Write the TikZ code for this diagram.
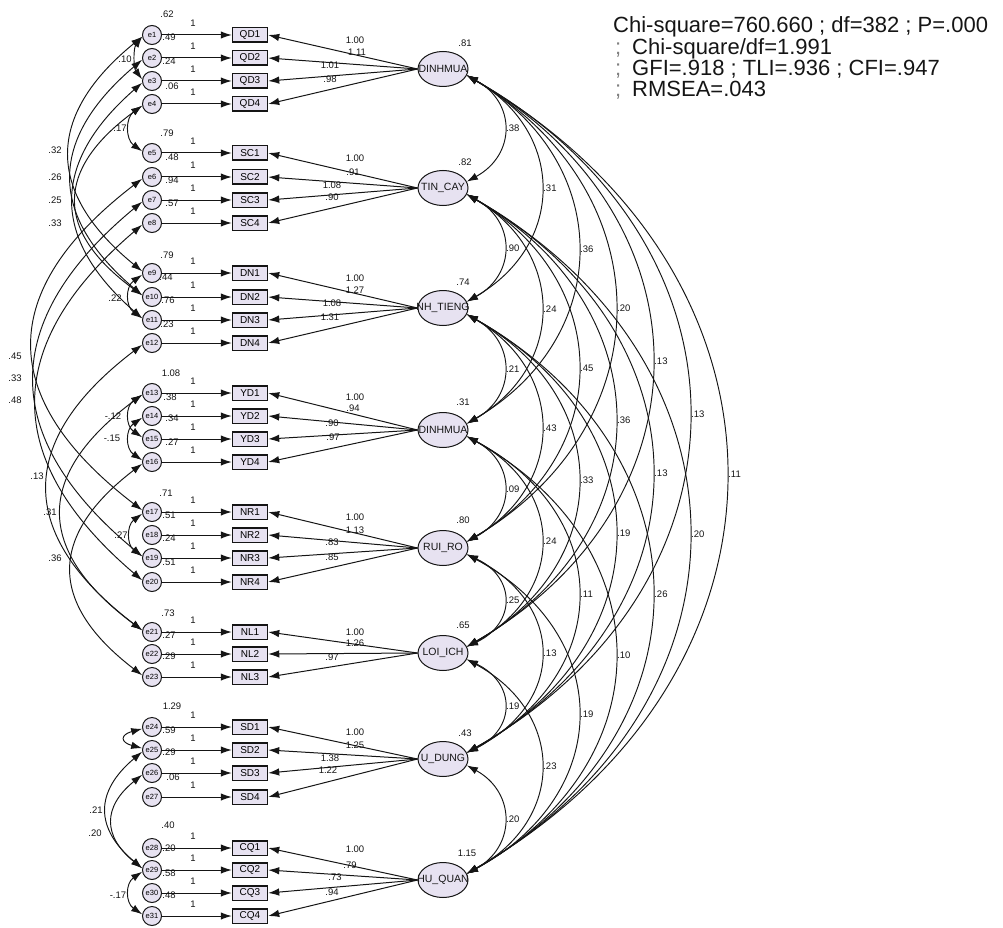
\documentclass[tikz,border=0pt]{standalone}
\usepackage{fontspec}
\setmainfont{Liberation Sans}
\usetikzlibrary{arrows.meta,shapes.geometric}
\definecolor{nodefill}{HTML}{E7E2F1}
\definecolor{ink}{HTML}{151515}
\tikzset{
  err/.style={circle, draw=ink, fill=nodefill, line width=1pt, minimum size=19pt, inner sep=0pt, font=\fontsize{7.5}{7.5}\selectfont},
  obs/.style={rectangle, draw=ink, fill=nodefill, line width=1.5pt, minimum width=35pt, minimum height=14.5pt, inner sep=0pt, font=\fontsize{10}{10}\selectfont},
  lat/.style={ellipse, draw=ink, fill=nodefill, line width=1pt, minimum width=50pt, minimum height=35pt, inner sep=0pt},
  lattext/.style={font=\fontsize{10.5}{10.5}\selectfont, inner sep=0pt, text=ink},
  arr/.style={draw=ink, line width=1pt, -{Latex[length=11pt,width=7.5pt]}},
  cov/.style={draw=ink, line width=0.95pt, {Latex[length=11pt,width=7.5pt]}-{Latex[length=11pt,width=7.5pt]}},
  lab/.style={font=\fontsize{9.5}{9.5}\selectfont, inner sep=0pt, text=ink},
  clab/.style={lab, pos=0.5, anchor=west, xshift=2pt},
  fitline/.style={font=\fontsize{22}{22}\selectfont, inner sep=0pt, anchor=base west, text=ink},
  fitsep/.style={fitline, text=gray},
}
\begin{document}
\begin{tikzpicture}[x=1pt,y=1pt]
\useasboundingbox (0,0) rectangle (1003,-928);

% error terms, indicators and their unit paths
\foreach \n/\y/\t in {1/35/QD1,2/58/QD2,3/81/QD3,4/104/QD4,
  5/153/SC1,6/177/SC2,7/200/SC3,8/223/SC4,
  9/273/DN1,10/297/DN2,11/320/DN3,12/343/DN4,
  13/393/YD1,14/416/YD2,15/439/YD3,16/462/YD4,
  17/512/NR1,18/535/NR2,19/558/NR3,20/582/NR4,
  21/632/NL1,22/654/NL2,23/677/NL3,
  24/727/SD1,25/750/SD2,26/773/SD3,27/797/SD4,
  28/848/CQ1,29/870/CQ2,30/893/CQ3,31/916/CQ4}{
  \node[err] (e\n) at (152,-\y) {e\n};
  \node[obs] (v\n) at (250,-\y) {\t};
  \draw[arr] (e\n) -- (v\n);
  \node[lab] (one\n) at (193,-\y+12) {1};
}

% latent factors
\foreach \k/\y/\t in {1/69/DINHMUA,2/188/TIN\_CAY,3/308/NH\_TIENG,4/430/DINHMUA,
  5/548/RUI\_RO,6/653/LOI\_ICH,7/759/U\_DUNG,8/880/HU\_QUAN}{
  \node[lat, label={[lattext]center:\t}] (F\k) at (443,-\y) {};
}

% factor loadings
\foreach \v/\k in {1/1,2/1,3/1,4/1,5/2,6/2,7/2,8/2,9/3,10/3,11/3,12/3,
  13/4,14/4,15/4,16/4,17/5,18/5,19/5,20/5,21/6,22/6,23/6,
  24/7,25/7,26/7,27/7,28/8,29/8,30/8,31/8}{
  \draw[arr] (F\k.west) -- (v\v.east);
}

% loading estimates
\foreach \x/\y/\t [count=\c] in {355/40/1.00,357/52/1.11,330/65/1.01,330/79/.98,
  355/158/1.00,353/172/.91,332/185/1.08,332/197/.90,
  355/278/1.00,355/290/1.27,332/303/1.08,330/317/1.31,
  355/397/1.00,353/408/.94,332/423/.90,333/437/.97,
  355/517/1.00,355/530/1.13,332/542/.83,332/557/.85,
  355/632/1.00,355/643/1.26,332/657/.97,
  355/732/1.00,355/745/1.25,330/758/1.38,328/770/1.22,
  355/849/1.00,350/865/.79,335/877/.73,332/892/.94}{
  \node[lab] (ld\c) at (\x,-\y) {\t};
}

% error variances
\foreach \x/\y/\t [count=\c] in {167/14/.62,169/37/.49,169/61/.24,172/86/.06,
  167/133/.79,172/157/.48,172/180/.94,172/203/.57,
  167/255/.79,166/277/.44,168/300/.76,167/324/.23,
  171/373/1.08,170/397/.38,172/418/.34,172/442/.27,
  166/493/.71,169/515/.51,169/538/.24,169/562/.51,
  168/613/.73,169/635/.27,169/656/.29,
  172/706/1.29,169/730/.59,169/752/.29,173/777/.06,
  168/825/.40,169/848/.20,169/873/.58,169/895/.48}{
  \node[lab] (ev\c) at (\x,-\y) {\t};
}

% factor variances
\foreach \x/\y/\t [count=\c] in {465/43/.81,465/162/.82,463/282/.74,463/402/.31,
  463/520/.80,463/625/.65,465/733/.43,467/853/1.15}{
  \node[lab] (fv\c) at (\x,-\y) {\t};
}

% covariances between error terms
\draw[cov] (e1.190) .. controls +(-8.8,-11.5) and +(-8.8,11.5) .. (e3.170);
\draw[cov] (e4.190) .. controls +(-16.8,-12) and +(-16.8,12) .. (e5.170);
\draw[cov] (e1.190) .. controls +(-96.8,-79) and +(-96.8,79) .. (e9.170);
\draw[cov] (e2.190) .. controls +(-94.1,-80) and +(-94.1,80) .. (e10.170);
\draw[cov] (e3.190) .. controls +(-91.5,-80) and +(-91.5,80) .. (e11.170);
\draw[cov] (e4.190) .. controls +(-87.5,-64) and +(-87.5,64) .. (e10.170);
\draw[cov] (e6.190) .. controls +(-146,-112) and +(-146,112) .. (e17.170);
\draw[cov] (e7.190) .. controls +(-143.5,-119) and +(-143.5,119) .. (e19.170);
\draw[cov] (e8.190) .. controls +(-140.8,-120) and +(-140.8,120) .. (e20.170);
\draw[cov] (e12.190) .. controls +(-126,-96) and +(-126,96) .. (e21.170);
\draw[cov] (e13.190) .. controls +(-107.5,-80) and +(-107.5,80) .. (e21.170);
\draw[cov] (e16.190) .. controls +(-94,-72) and +(-94,72) .. (e23.170);
\draw[cov] (e9.190) .. controls +(-16.8,-12) and +(-16.8,12) .. (e11.170);
\draw[cov] (e13.190) .. controls +(-16.8,-11.5) and +(-16.8,11.5) .. (e15.170);
\draw[cov] (e14.190) .. controls +(-16.8,-11.5) and +(-16.8,11.5) .. (e16.170);
\draw[cov] (e17.190) .. controls +(-15.5,-11.5) and +(-15.5,11.5) .. (e19.170);
\draw[cov] (e24.190) .. controls +(-22,-6) and +(-22,6) .. (e25.170);
\draw[cov] (e25.190) .. controls +(-47.5,-40) and +(-47.5,40) .. (e29.170);
\draw[cov] (e26.190) .. controls +(-39.5,-32) and +(-39.5,32) .. (e29.170);
\draw[cov] (e29.190) .. controls +(-16.8,-11.5) and +(-16.8,11.5) .. (e31.170);

\foreach \x/\y/\t [count=\c] in {125/59/.10,120/128/.17,55/150/.32,55/177/.26,
  55/200/.25,55/223/.33,115/298/.22,15/356/.45,15/378/.33,15/400/.48,
  113/416/-.12,112/438/-.15,37/476/.13,50/512/.31,121/535/.27,55/558/.36,
  96/810/.21,95/833/.20,118/895/-.17}{
  \node[lab] (ec\c) at (\x,-\y) {\t};
}

% covariances between factors
\draw[cov] (F1.-15) .. controls +(49.3,-27) and +(49.3,27) .. (F2.15) node[clab]{.38};
\draw[cov] (F1.-15) .. controls +(98.7,-57) and +(98.7,57) .. (F3.15) node[clab]{.31};
\draw[cov] (F1.-15) .. controls +(148,-87) and +(148,87) .. (F4.15) node[clab]{.36};
\draw[cov] (F1.-15) .. controls +(197.3,-117) and +(197.3,117) .. (F5.15) node[clab]{.20};
\draw[cov] (F1.-15) .. controls +(246.7,-143) and +(246.7,143) .. (F6.15) node[clab]{.13};
\draw[cov] (F1.-15) .. controls +(296,-169) and +(296,169) .. (F7.15) node[clab]{.13};
\draw[cov] (F1.-15) .. controls +(345.3,-200) and +(345.3,200) .. (F8.15) node[clab]{.11};
\draw[cov] (F2.-15) .. controls +(49.3,-27) and +(49.3,27) .. (F3.15) node[clab]{.90};
\draw[cov] (F2.-15) .. controls +(98.7,-57.5) and +(98.7,57.5) .. (F4.15) node[clab]{.24};
\draw[cov] (F2.-15) .. controls +(148,-87) and +(148,87) .. (F5.15) node[clab]{.45};
\draw[cov] (F2.-15) .. controls +(197.3,-113) and +(197.3,113) .. (F6.15) node[clab]{.36};
\draw[cov] (F2.-15) .. controls +(246.7,-140) and +(246.7,140) .. (F7.15) node[clab]{.13};
\draw[cov] (F2.-15) .. controls +(296,-170) and +(296,170) .. (F8.15) node[clab]{.20};
\draw[cov] (F3.-15) .. controls +(49.3,-27.5) and +(49.3,27.5) .. (F4.15) node[clab]{.21};
\draw[cov] (F3.-15) .. controls +(98.7,-57) and +(98.7,57) .. (F5.15) node[clab]{.43};
\draw[cov] (F3.-15) .. controls +(148,-83) and +(148,83) .. (F6.15) node[clab]{.33};
\draw[cov] (F3.-15) .. controls +(197.3,-110) and +(197.3,110) .. (F7.15) node[clab]{.19};
\draw[cov] (F3.-15) .. controls +(246.7,-140) and +(246.7,140) .. (F8.15) node[clab]{.26};
\draw[cov] (F4.-15) .. controls +(49.3,-26.5) and +(49.3,26.5) .. (F5.15) node[clab]{.09};
\draw[cov] (F4.-15) .. controls +(98.7,-53) and +(98.7,53) .. (F6.15) node[clab]{.24};
\draw[cov] (F4.-15) .. controls +(148,-79) and +(148,79) .. (F7.15) node[clab]{.11};
\draw[cov] (F4.-15) .. controls +(197.3,-109.5) and +(197.3,109.5) .. (F8.15) node[clab]{.10};
\draw[cov] (F5.-15) .. controls +(49.3,-23) and +(49.3,23) .. (F6.15) node[clab]{.25};
\draw[cov] (F5.-15) .. controls +(98.7,-50) and +(98.7,50) .. (F7.15) node[clab]{.13};
\draw[cov] (F5.-15) .. controls +(148,-80) and +(148,80) .. (F8.15) node[clab]{.19};
\draw[cov] (F6.-15) .. controls +(49.3,-23.5) and +(49.3,23.5) .. (F7.15) node[clab]{.19};
\draw[cov] (F6.-15) .. controls +(98.7,-54) and +(98.7,54) .. (F8.15) node[clab]{.23};
\draw[cov] (F7.-15) .. controls +(49.3,-27) and +(49.3,27) .. (F8.15) node[clab]{.20};

% model fit summary
\node[fitline] (fit1) at (613,-33) {Chi-square=760.660 ; df=382 ; P=.000};
\node[fitsep] (sep2) at (615,-55) {;};
\node[fitline] (fit2) at (632,-55) {Chi-square/df=1.991};
\node[fitsep] (sep3) at (615,-76) {;};
\node[fitline] (fit3) at (632,-76) {GFI=.918 ; TLI=.936 ; CFI=.947};
\node[fitsep] (sep4) at (615,-97) {;};
\node[fitline] (fit4) at (632,-97) {RMSEA=.043};
\end{tikzpicture}
\end{document}
